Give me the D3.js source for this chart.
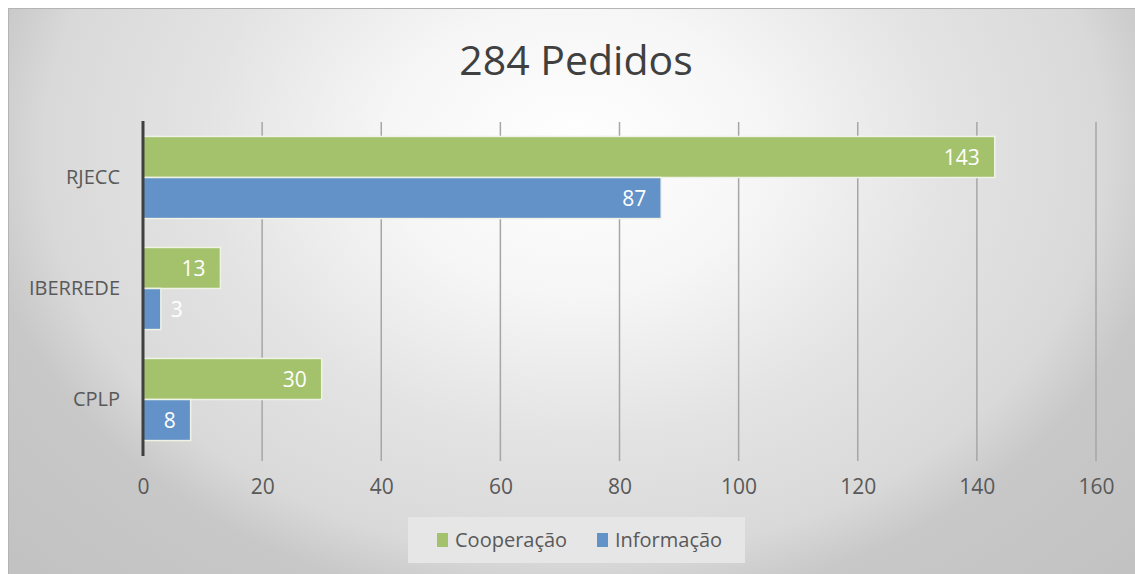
<!DOCTYPE html>
<html>
<head>
<meta charset="utf-8">
<script src="https://cdn.jsdelivr.net/npm/d3@7"></script>
<style>
  body { margin: 0; padding: 0; background: #ffffff; }
  svg { display: block; font-family: "Open Sans", "Noto Sans", sans-serif; }
</style>
</head>
<body>
<svg id="chart"></svg>
<script>
// chart data
const categories = ["RJECC", "IBERREDE", "CPLP"];
const seriesNames = ["Cooperação", "Informação"];
const cooperacao = [143, 13, 30];
const informacao = [87, 3, 8];
const xTicks = [0, 20, 40, 60, 80, 100, 120, 140, 160];
const title = "284 Pedidos";

const colors = ["#a4c26c", "#6292c8"];

const W = 1135, H = 574;
const margin = { top: 122, right: 39, bottom: 119, left: 143 },
  width = W - margin.left - margin.right,
  height = H - margin.top - margin.bottom;

const svg = d3.select("#chart")
  .attr("width", W)
  .attr("height", H);

// background gradient (light near the top centre, grey at the sides)
const defs = svg.append("defs");
const grad = defs.append("radialGradient")
  .attr("id", "bg")
  .attr("gradientUnits", "userSpaceOnUse")
  .attr("cx", 575).attr("cy", 150).attr("r", 600)
  .attr("gradientTransform", "translate(575,150) scale(1.3,1) translate(-575,-150)");
[[0, "#ffffff"], [0.24, "#f6f6f6"], [0.48, "#e3e3e3"], [0.68, "#d9d9d9"], [0.77, "#c8c8c8"], [1, "#c2c2c2"]]
  .forEach(s => grad.append("stop").attr("offset", s[0]).attr("stop-color", s[1]));

svg.append("rect")
  .attr("x", 8.5).attr("y", 8.5)
  .attr("width", W).attr("height", H)
  .attr("fill", "url(#bg)")
  .attr("stroke", "#b4b4b4");

// title
svg.append("text")
  .attr("x", 576)
  .attr("y", 75)
  .attr("text-anchor", "middle")
  .attr("font-size", 41)
  .attr("fill", "#404040")
  .text(title);

const g = svg.append("g")
  .attr("transform", "translate(" + margin.left + "," + margin.top + ")");

// scales
const x = d3.scaleLinear().domain([0, 160]).range([0, width]);
const y0 = d3.scaleBand().domain(categories).range([0, height]).paddingInner(0.26).paddingOuter(0.13);
const y1 = d3.scaleBand().domain(seriesNames).range([0, y0.bandwidth()]);

// gridlines
g.selectAll(".grid")
  .data(xTicks.slice(1))
  .enter().append("line")
  .attr("class", "grid")
  .attr("x1", d => x(d)).attr("x2", d => x(d))
  .attr("y1", 0).attr("y2", height + 6)
  .attr("stroke", "#a6a6a6")
  .attr("stroke-width", 1.5);

// x axis labels
const xAxis = d3.axisBottom(x).tickValues(xTicks).tickSize(0).tickPadding(24);
const xa = g.append("g")
  .attr("transform", "translate(0," + height + ")")
  .call(xAxis);
xa.select(".domain").remove();
xa.selectAll("text")
  .attr("font-size", 21)
  .attr("font-family", "Open Sans, sans-serif")
  .attr("fill", "#595959");

// y axis labels
const yAxis = d3.axisLeft(y0).tickSize(0).tickPadding(23);
const ya = g.append("g").call(yAxis);
ya.select(".domain").remove();
ya.selectAll("text")
  .attr("font-size", 20)
  .attr("font-family", "Open Sans, sans-serif")
  .attr("fill", "#595959");

// bars
const rows = categories.map((c, i) => ({ cat: c, values: [cooperacao[i], informacao[i]] }));

const grp = g.selectAll(".cat")
  .data(rows)
  .enter().append("g")
  .attr("class", "cat")
  .attr("transform", d => "translate(0," + y0(d.cat) + ")");

const bar = grp.selectAll(".bar")
  .data(d => d.values.map((v, j) => ({ name: seriesNames[j], value: v, j: j })))
  .enter();

bar.append("rect")
  .attr("class", "bar")
  .attr("x", 0)
  .attr("y", d => y1(d.name))
  .attr("width", d => x(d.value))
  .attr("height", y1.bandwidth())
  .attr("fill", d => colors[d.j])
  .attr("stroke", "#eef3e6")
  .attr("stroke-width", 1.5);

bar.append("text")
  .attr("x", d => x(d.value) < 30 ? x(d.value) + 10 : x(d.value) - 15)
  .attr("y", d => y1(d.name) + y1.bandwidth() / 2)
  .attr("dy", "0.36em")
  .attr("text-anchor", d => x(d.value) < 30 ? "start" : "end")
  .attr("font-size", 21)
  .attr("fill", "#ffffff")
  .text(d => d.value);

// y axis line
g.append("line")
  .attr("x1", 0).attr("x2", 0)
  .attr("y1", -1).attr("y2", height + 1)
  .attr("stroke", "#404040")
  .attr("stroke-width", 3);

// legend
const legend = svg.append("g").attr("transform", "translate(408,517)");
legend.append("rect")
  .attr("width", 337).attr("height", 46)
  .attr("fill", "#e6e6e6");

const items = legend.selectAll(".item")
  .data(seriesNames)
  .enter().append("g")
  .attr("class", "item")
  .attr("transform", (d, i) => "translate(" + (i === 0 ? 29 : 189) + ",0)");

items.append("rect")
  .attr("x", 0).attr("y", 16)
  .attr("width", 11).attr("height", 14)
  .attr("fill", (d, i) => colors[i]);

items.append("text")
  .attr("x", 18).attr("y", 23)
  .attr("dy", "0.36em")
  .attr("font-size", 20)
  .attr("fill", "#595959")
  .text(d => d);
</script>
</body>
</html>
